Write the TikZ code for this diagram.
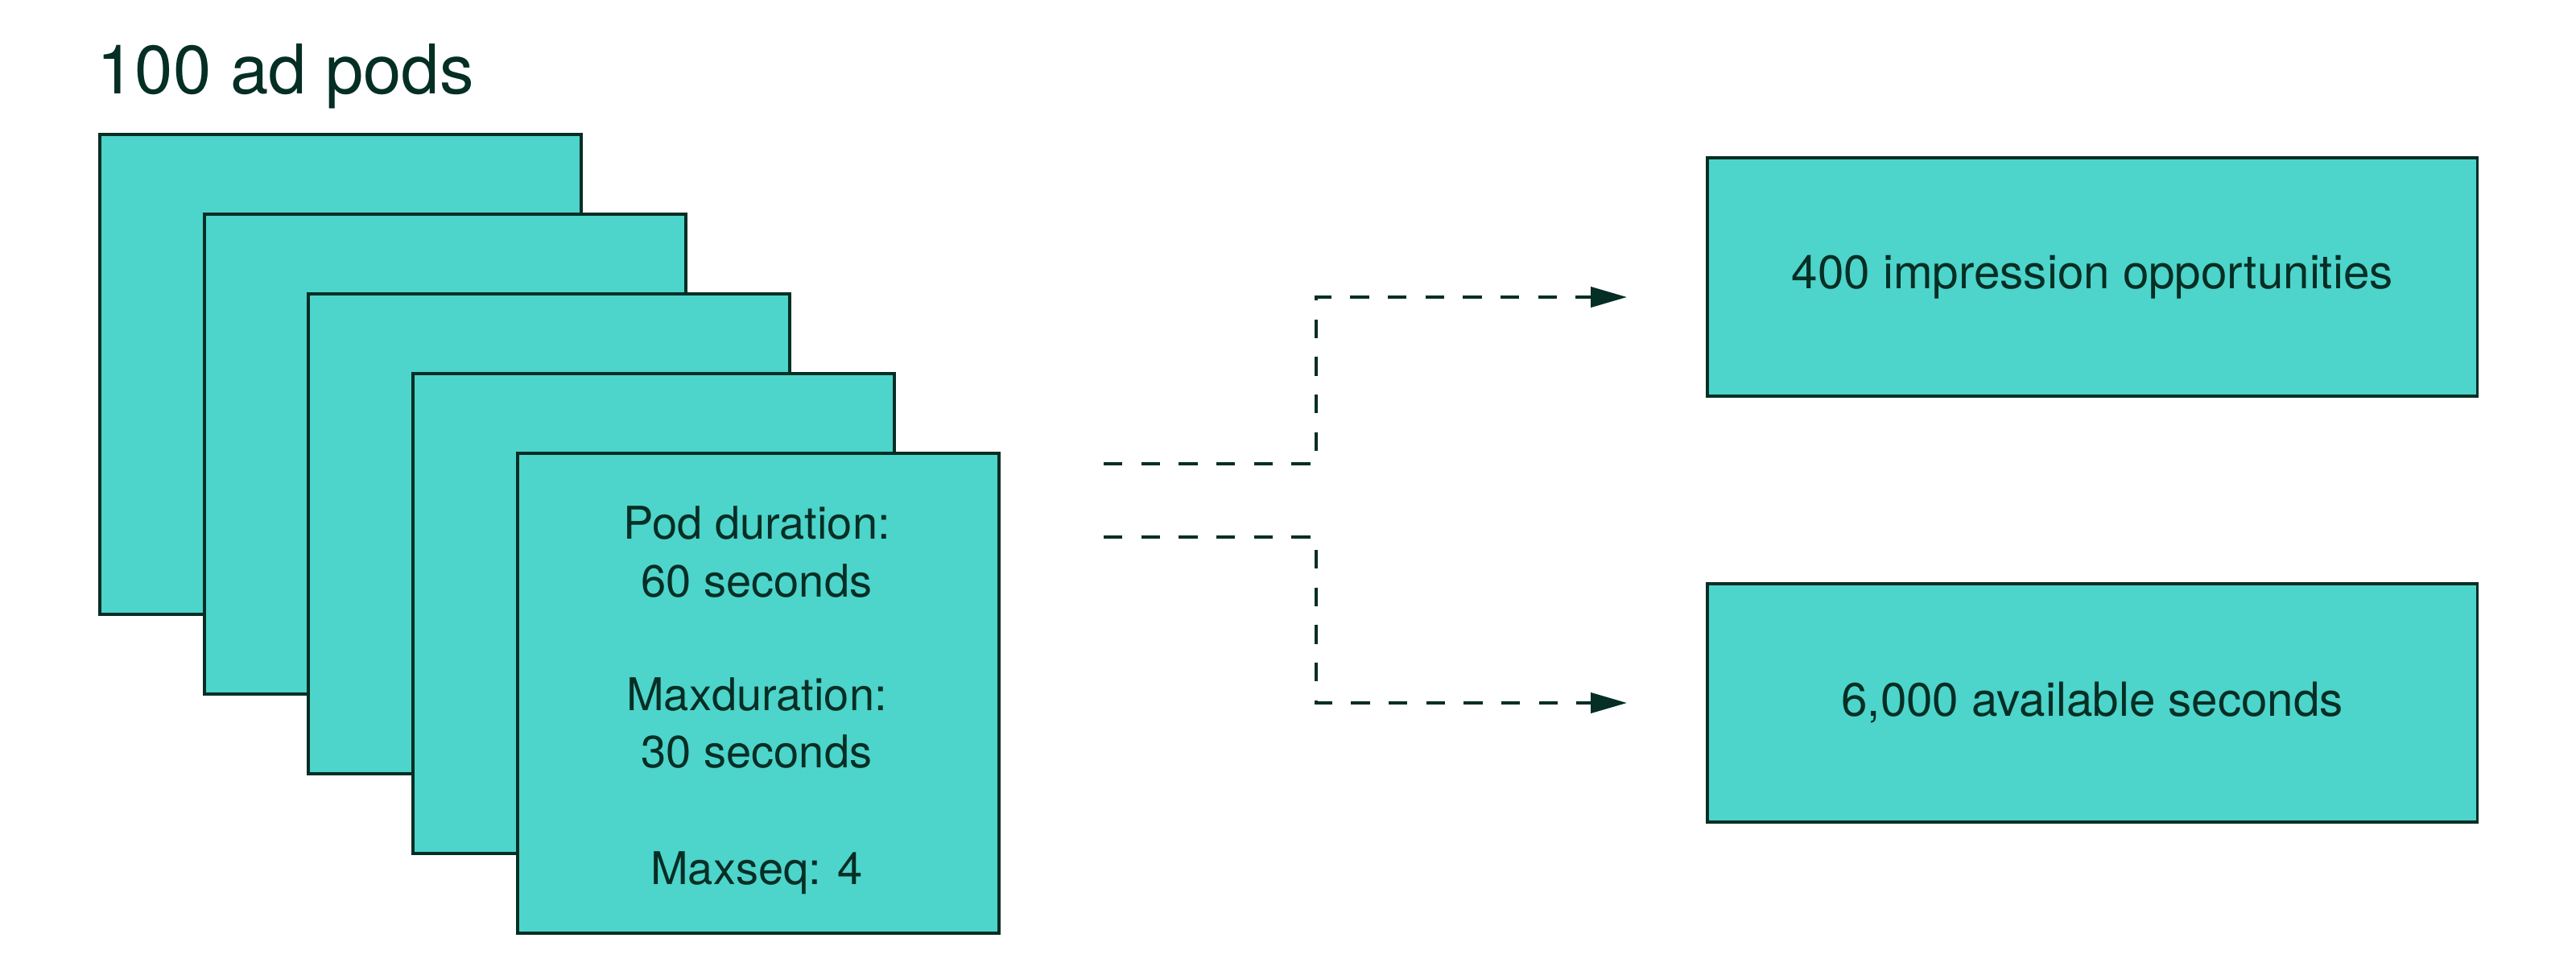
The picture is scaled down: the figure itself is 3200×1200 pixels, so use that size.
\documentclass[tikz,border=0pt]{standalone}
\usepackage{fontspec}
\setmainfont{TeX Gyre Heros}
\usetikzlibrary{arrows.meta}
\definecolor{teal}{HTML}{4DD4CB}
\definecolor{ink}{HTML}{052E24}
\begin{document}
\begin{tikzpicture}[x=0.3pt,y=-0.3pt,
  pod/.style={draw=ink,fill=teal,line width=1.1pt,minimum width=179.4pt,minimum height=178.8pt,inner sep=0pt,anchor=north west},
  outbox/.style={draw=ink,fill=teal,line width=1.1pt,minimum width=287pt,minimum height=88.8pt,inner sep=0pt,anchor=north west,font=\fontsize{17.5}{20}\selectfont,text=ink},
  podtxt/.style={anchor=base,font=\fontsize{16.8}{20}\selectfont,text=ink,inner sep=0pt},
  flow/.style={draw=ink,line width=1.2pt,dash pattern=on 7pt off 7pt,-{Triangle[length=13.5pt,width=7.5pt]}}]
\useasboundingbox (0,0) rectangle (3200,1200);
\node[anchor=base west,inner sep=0pt,font=\fontsize{25.5}{30}\selectfont,text=ink] (title) at (120,116) {100 ad pods};
\node[pod] (p1) at (122,165) {};
\node[pod] (p2) at (252,264) {};
\node[pod] (p3) at (381,363) {};
\node[pod] (p4) at (511,462) {};
\node[pod] (p5) at (641,561) {};
\node[podtxt] (t1) at (940,669) {Pod duration:};
\node[podtxt] (t2) at (940,741) {60 seconds};
\node[podtxt] (t3) at (940,882) {Maxduration:};
\node[podtxt] (t4) at (940,953) {30 seconds};
\node[podtxt] (t5) at (940,1098) {Maxseq: 4};
\node[outbox] (imp) at (2119,194) {400 impression opportunities};
\node[outbox] (sec) at (2119,723) {6,000 available seconds};
\coordinate (s1) at (1371,576);
\coordinate (s2) at (1371,667);
\coordinate (k1) at (1635,576);
\coordinate (k2) at (1635,667);
\coordinate (e1) at (2021,369);
\coordinate (e2) at (2021,873);
\draw[flow] (s1) -- (k1) |- (e1);
\draw[flow] (s2) -- (k2) |- (e2);
\end{tikzpicture}
\end{document}
